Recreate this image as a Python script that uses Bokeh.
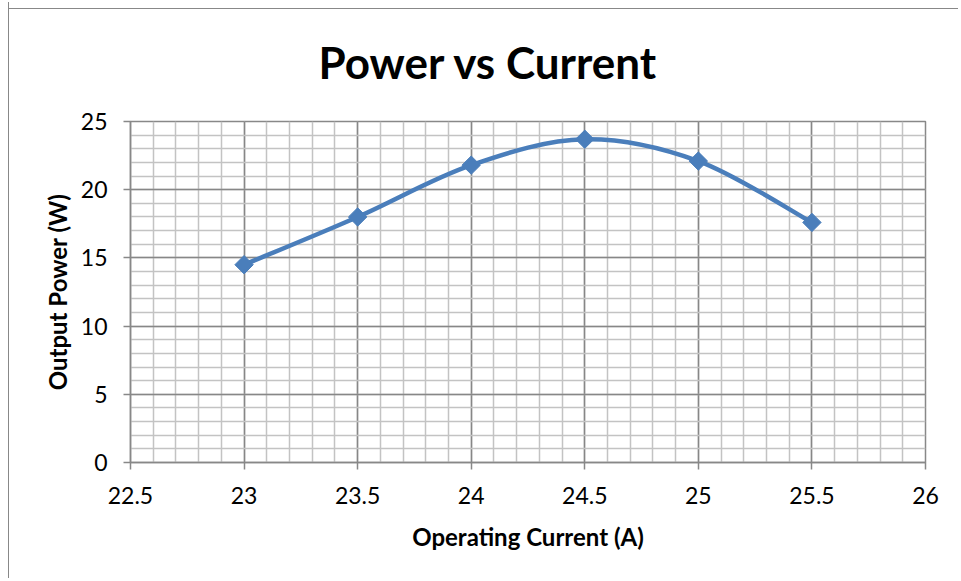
from bokeh.plotting import figure
from bokeh.models import Range1d, SingleIntervalTicker, Title, ColumnDataSource
from bokeh.embed import file_html
from bokeh.resources import INLINE

# Data
current = [23.0, 23.5, 24.0, 24.5, 25.0, 25.5]
power = [14.5, 18.0, 21.8, 23.7, 22.1, 17.6]

title_text = "Power vs Current"
x_label = "Operating Current (A)"
y_label = "Output Power (W)"

BLUE = "#4A7EBB"
FONT = "Lato"

p = figure(width=950, height=576, output_backend="svg", toolbar_location=None,
           x_range=Range1d(22.5, 26), y_range=Range1d(0, 25),
           min_border_left=121, min_border_top=119, min_border_right=34, min_border_bottom=116)
p.border_fill_alpha = 0
p.background_fill_color = "#FFFFFF"
p.styles = {"border-left": "1px solid #888888",
            "margin-top": "2px", "margin-left": "8px",
            "background-image": "linear-gradient(#888888, #888888)",
            "background-repeat": "no-repeat",
            "background-position": "0px 6px",
            "background-size": "100% 1px"}
p.outline_line_color = "#888888"
p.outline_line_width = 1.5

p.xaxis.ticker = SingleIntervalTicker(interval=0.5, num_minor_ticks=5)
p.yaxis.ticker = SingleIntervalTicker(interval=5, num_minor_ticks=5)

for ax in (p.xaxis, p.yaxis):
    ax.axis_line_color = "#888888"
    ax.axis_line_width = 1.5
    ax.major_tick_line_color = "#888888"
    ax.major_tick_line_width = 1.5
    ax.major_tick_out = 7
    ax.major_tick_in = 0
    ax.minor_tick_line_color = None
    ax.major_label_text_font = FONT
    ax.major_label_text_font_size = "23px"
    ax.major_label_text_color = "#000000"
    ax.axis_label_text_font = FONT
    ax.axis_label_text_font_style = "bold"
    ax.axis_label_text_font_size = "24px"
    ax.axis_label_text_color = "#000000"

p.xaxis.axis_label = x_label
p.yaxis.axis_label = y_label
p.xaxis.major_label_standoff = 17
p.yaxis.major_label_standoff = 16
p.xaxis.axis_label_standoff = 15
p.yaxis.axis_label_standoff = 6

for g in (p.xgrid, p.ygrid):
    g.grid_line_color = "#878787"
    g.grid_line_width = 1.5
    g.minor_grid_line_color = "#C3C3C3"
    g.minor_grid_line_width = 1.5

# Smoothed curve (Catmull-Rom style Bezier segments, like Excel's smoothed line)
n = len(current)
x0, y0, x1, y1, cx0, cy0, cx1, cy1 = [], [], [], [], [], [], [], []
for i in range(n - 1):
    pm = max(i - 1, 0)
    pn = min(i + 2, n - 1)
    x0.append(current[i]); y0.append(power[i])
    x1.append(current[i + 1]); y1.append(power[i + 1])
    cx0.append(current[i] + (current[i + 1] - current[pm]) / 6)
    cy0.append(power[i] + (power[i + 1] - power[pm]) / 6)
    cx1.append(current[i + 1] - (current[pn] - current[i]) / 6)
    cy1.append(power[i + 1] - (power[pn] - power[i]) / 6)
src = ColumnDataSource(dict(x0=x0, y0=y0, x1=x1, y1=y1, cx0=cx0, cy0=cy0, cx1=cx1, cy1=cy1))
p.bezier(x0="x0", y0="y0", x1="x1", y1="y1", cx0="cx0", cy0="cy0", cx1="cx1", cy1="cy1",
         source=src, line_color=BLUE, line_width=4.5)

p.scatter(current, power, marker="square", angle=0.785398, size=13,
          fill_color=BLUE, line_color=BLUE)

p.add_layout(Title(text=title_text, align="left", offset=188, standoff=65,
                   vertical_align="middle",
                   text_font=FONT, text_font_style="bold", text_font_size="44px",
                   text_color="#000000"), "above")

open("out.html", "w").write(file_html(p, INLINE))
